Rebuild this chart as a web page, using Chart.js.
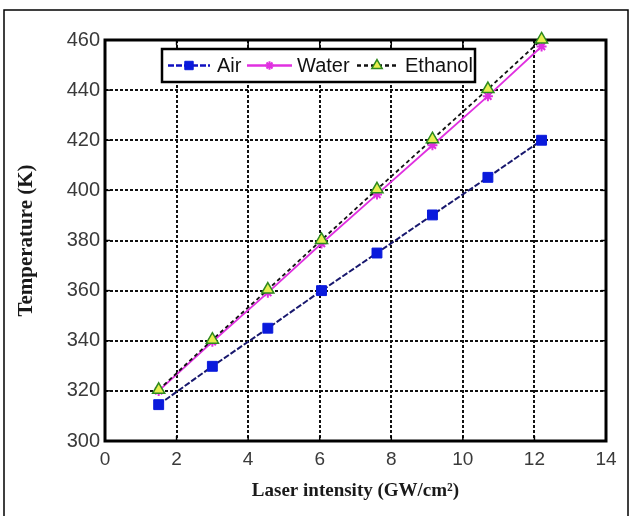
<!DOCTYPE html>
<html>
<head>
<meta charset="utf-8">
<script src="https://cdn.jsdelivr.net/npm/chart.js@4/dist/chart.umd.min.js"></script>
<style>
html,body{margin:0;padding:0;background:#fff;}
#wrap{position:relative;width:630px;height:516px;}
</style>
</head>
<body>
<div id="wrap"><canvas id="c" width="630" height="516"></canvas></div>
<script>
// ---- data ----
const intensity = [1.5, 3.0, 4.55, 6.05, 7.6, 9.15, 10.7, 12.2];
const airTemp = [314.5, 329.8, 345, 360, 375, 390.2, 405.2, 420];
const waterTemp = [320, 339.6, 359.2, 378.8, 398.4, 418, 437.6, 457.4];
const ethanolTemp = [320.4, 340.4, 360.4, 380.2, 400.4, 420.4, 440.4, 460.2];
const seriesNames = ['Air', 'Water', 'Ethanol'];
const xTicks = [0, 2, 4, 6, 8, 10, 12, 14];
const yTicks = [300, 320, 340, 360, 380, 400, 420, 440, 460];
const xTitle = 'Laser intensity (GW/cm\u00B2)';
const yTitle = 'Temperature (K)';

const toXY = (ys) => intensity.map((x, i) => ({x: x, y: ys[i]}));

const pageFrame = {
  id: 'pageFrame',
  beforeDraw(chart) {
    const ctx = chart.ctx;
    ctx.save();
    ctx.fillStyle = '#fff';
    ctx.fillRect(0, 0, chart.width, chart.height);
    ctx.strokeStyle = '#000';
    ctx.lineWidth = 1.5;
    ctx.strokeRect(4, 10, 624, 540);
    ctx.restore();
  }
};

const plotFrame = {
  id: 'plotFrame',
  beforeDatasetsDraw(chart) {
    const a = chart.chartArea, ctx = chart.ctx;
    ctx.save();
    ctx.strokeStyle = '#000';
    ctx.lineWidth = 3;
    ctx.strokeRect(a.left, a.top, a.right - a.left, a.bottom - a.top);
    ctx.lineWidth = 1.5;
    const xs = chart.scales.x, ys = chart.scales.y;
    yTicks.forEach(v => {
      const p = ys.getPixelForValue(v);
      ctx.beginPath(); ctx.moveTo(a.left, p); ctx.lineTo(a.left + 5, p); ctx.stroke();
      ctx.beginPath(); ctx.moveTo(a.right, p); ctx.lineTo(a.right - 5, p); ctx.stroke();
    });
    xTicks.forEach(v => {
      const p = xs.getPixelForValue(v);
      ctx.beginPath(); ctx.moveTo(p, a.top); ctx.lineTo(p, a.top + 5); ctx.stroke();
      ctx.beginPath(); ctx.moveTo(p, a.bottom); ctx.lineTo(p, a.bottom - 5); ctx.stroke();
    });
    ctx.restore();
  }
};

const customLegend = {
  id: 'customLegend',
  afterDraw(chart) {
    const a = chart.chartArea, ctx = chart.ctx;
    const bx = a.left + 57, by = a.top + 9, bw = 313, bh = 33;
    ctx.save();
    ctx.fillStyle = '#fff';
    ctx.fillRect(bx, by, bw, bh);
    ctx.beginPath();
    ctx.rect(bx, by, bw, bh);
    ctx.clip();
    const cy = by + bh / 2;
    const ds = chart.data.datasets;
    const items = [
      {x0: bx + 6, x1: bx + 48, tx: bx + 55},
      {x0: bx + 85, x1: bx + 130, tx: bx + 135},
      {x0: bx + 195, x1: bx + 235, tx: bx + 243}
    ];
    ctx.font = '20px "Liberation Sans", Arial, sans-serif';
    ctx.textBaseline = 'middle';
    items.forEach((it, i) => {
      const d = ds[i];
      ctx.save();
      ctx.strokeStyle = i === 0 ? '#1010c0' : d.borderColor;
      ctx.lineWidth = 2.5;
      ctx.setLineDash(d.borderDash || []);
      ctx.beginPath(); ctx.moveTo(it.x0, cy); ctx.lineTo(it.x1, cy); ctx.stroke();
      ctx.restore();
      ctx.save();
      ctx.fillStyle = d.pointBackgroundColor;
      ctx.strokeStyle = d.pointBorderColor;
      ctx.lineWidth = d.pointBorderWidth || 1;
      Chart.helpers.drawPoint(ctx, {
        pointStyle: d.pointStyle, radius: d.pointRadius * 0.85, borderWidth: d.pointBorderWidth || 1
      }, (it.x0 + it.x1) / 2, cy);
      ctx.restore();
      ctx.fillStyle = '#111';
      ctx.fillText(seriesNames[i], it.tx, cy + 1);
    });
    ctx.restore();
    ctx.save();
    ctx.strokeStyle = '#000';
    ctx.lineWidth = 2.5;
    ctx.strokeRect(bx, by, bw, bh);
    ctx.restore();
  }
};

new Chart(document.getElementById('c'), {
  type: 'line',
  data: {
    datasets: [
      {
        label: seriesNames[0], data: toXY(airTemp), clip: false,
        borderColor: '#18186e', borderWidth: 2, borderDash: [6, 2],
        pointStyle: 'rect', pointRadius: 7, pointBackgroundColor: '#0a1adc',
        pointBorderColor: '#0a1adc', pointBorderWidth: 1, order: 2
      },
      {
        label: seriesNames[1], data: toXY(waterTemp), clip: false,
        borderColor: '#e030e0', borderWidth: 1.8,
        pointStyle: 'star', pointRadius: 5, pointBackgroundColor: '#e030e0',
        pointBorderColor: '#e030e0', pointBorderWidth: 2, order: 1
      },
      {
        label: seriesNames[2], data: toXY(ethanolTemp), clip: false,
        borderColor: '#111', borderWidth: 1.8, borderDash: [4, 3],
        pointStyle: 'triangle', pointRadius: 7, pointBackgroundColor: '#e8f050',
        pointBorderColor: '#2e8a1e', pointBorderWidth: 1.5, order: 0
      }
    ]
  },
  options: {
    responsive: false,
    animation: false,
    devicePixelRatio: 1,
    layout: {padding: {left: 0, top: 40, right: 24, bottom: 0}},
    plugins: {legend: {display: false}, tooltip: {enabled: false}},
    elements: {line: {tension: 0}},
    scales: {
      x: {
        type: 'linear', min: 0, max: 14,
        afterBuildTicks: (s) => { s.ticks = xTicks.map(v => ({value: v})); },
        afterFit: (s) => { s.height = 75; },
        ticks: {font: {family: '"Liberation Sans", Arial, sans-serif', size: 19}, color: '#3a3a3a', padding: 7},
        grid: {color: '#111', lineWidth: 2, drawTicks: false},
        border: {display: false, dash: [3, 2]},
        title: {display: true, text: xTitle, color: '#1a1a1a',
          font: {family: '"Liberation Serif", "Times New Roman", serif', size: 19, weight: 'bold'},
          padding: {top: 0, bottom: 14}}
      },
      y: {
        type: 'linear', min: 300, max: 460,
        afterBuildTicks: (s) => { s.ticks = yTicks.map(v => ({value: v})); },
        afterFit: (s) => { s.width = 105; },
        ticks: {font: {family: '"Liberation Sans", Arial, sans-serif', size: 20}, color: '#3a3a3a', padding: 5},
        grid: {color: '#111', lineWidth: 2, drawTicks: false},
        border: {display: false, dash: [3, 2]},
        title: {display: true, text: yTitle, color: '#1a1a1a',
          font: {family: '"Liberation Serif", "Times New Roman", serif', size: 21, weight: 'bold'},
          padding: {top: 14, bottom: 0}}
      }
    }
  },
  plugins: [pageFrame, plotFrame, customLegend]
});
</script>
</body>
</html>
